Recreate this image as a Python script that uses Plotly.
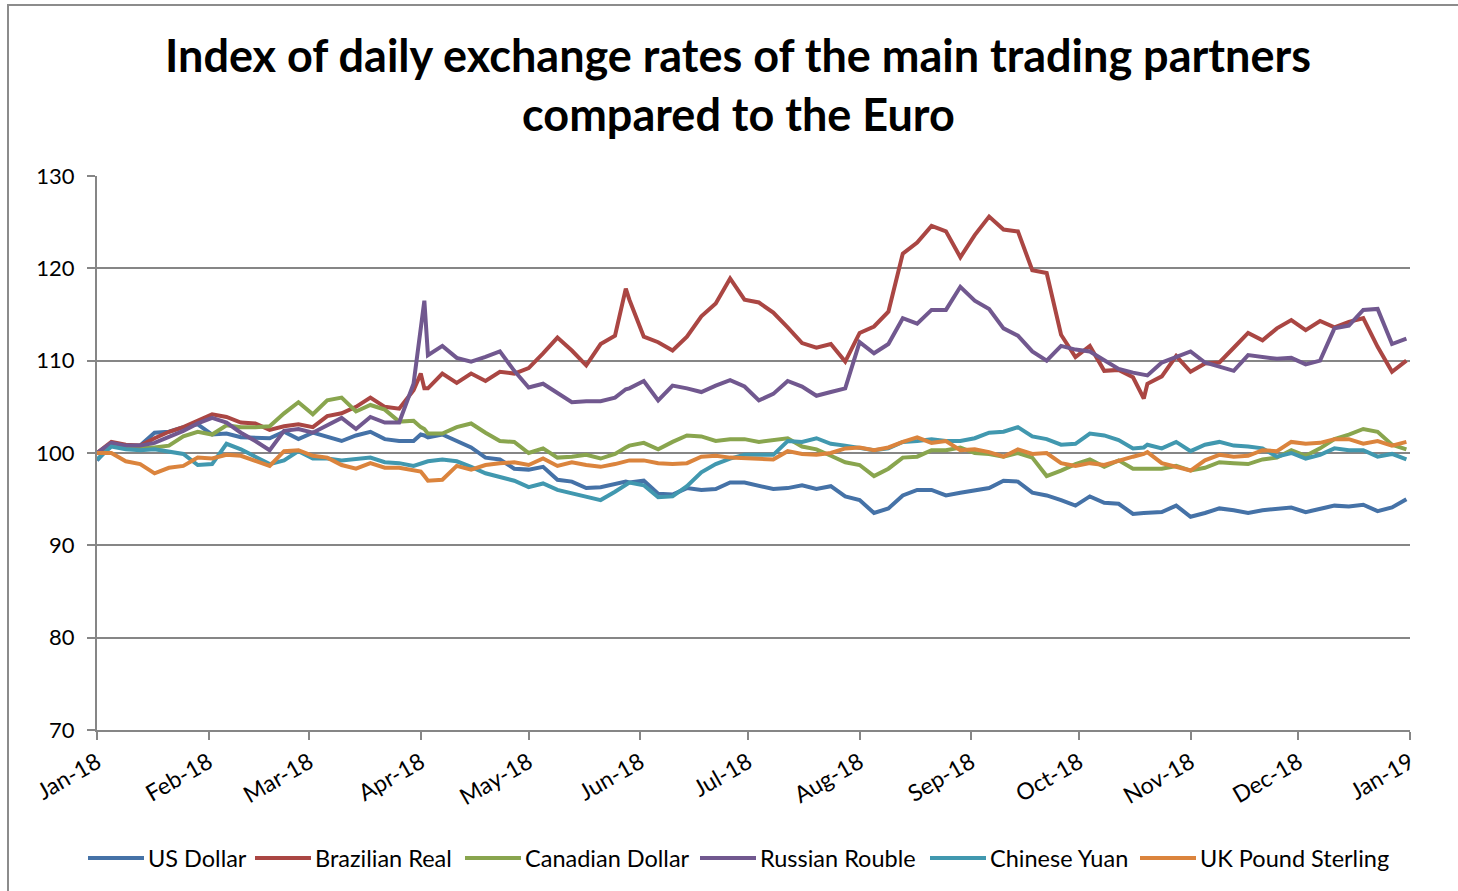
import pandas as pd
import plotly.graph_objects as go

# Day offsets from 1 January 2018 for each sampled observation
days = [0, 4, 8, 12, 16, 20, 24, 28, 32, 36, 40, 44, 48, 52, 56, 60, 64, 68, 72, 76, 80, 84, 88,
        90, 91,
        92, 96, 100, 104, 108, 112, 116, 120, 124, 128, 132, 136, 140, 144,
        147,
        148, 152, 156, 160, 164, 168, 172, 176, 180, 184, 188, 192, 196, 200, 204, 208, 212, 216,
        220, 224, 228, 232, 236, 240, 244, 248, 252, 256, 260, 264, 268, 272, 276, 280, 284, 288,
        291,
        292, 296, 300, 304, 308, 312, 316, 320, 324, 328, 332, 336, 340, 344, 348, 352, 356, 360, 364]

us_dollar = [99.2, 100.9, 100.7, 100.8, 102.2, 102.3, 102.8, 103.1, 102.0, 102.1, 101.7, 101.7, 101.6,
             102.3, 101.5, 102.2, 101.7, 101.3, 101.9, 102.3, 101.5, 101.3, 101.3,
             102.0, 101.9,
             101.7, 102.0, 101.3, 100.6, 99.5, 99.3, 98.3, 98.2, 98.5, 97.1, 96.9, 96.2, 96.3, 96.6,
             96.9,
             96.8, 97.0, 95.6, 95.5, 96.2, 96.0, 96.1, 96.8, 96.8, 96.4, 96.1, 96.2, 96.5, 96.1, 96.4,
             95.3, 94.9, 93.5, 94.0, 95.4, 96.0, 96.0, 95.4, 95.7, 95.9, 96.2, 97.0, 96.9, 95.7, 95.4,
             94.9, 94.3, 95.3, 94.6, 94.5, 93.4,
             93.5,
             93.5, 93.6, 94.3, 93.1, 93.5, 94.0, 93.8, 93.5, 93.8, 93.9, 94.1, 93.6, 93.9, 94.3, 94.2,
             94.4, 93.7, 94.1, 95.0]

brazilian_real = [100.0, 101.2, 100.9, 100.8, 101.6, 102.3, 102.8, 103.5, 104.2, 103.9, 103.3, 103.2,
                  102.5, 102.9, 103.1, 102.8, 104.0, 104.3, 105.0, 106.0, 105.0, 104.8, 106.8,
                  108.6, 107.0,
                  107.0, 108.6, 107.6, 108.6, 107.8, 108.8, 108.6, 109.2, 110.8, 112.5, 111.1, 109.5,
                  111.8, 112.7,
                  117.8,
                  116.6, 112.6, 112.0, 111.1, 112.6, 114.8, 116.2, 118.9, 116.6, 116.3, 115.2, 113.6,
                  111.9, 111.4, 111.8, 109.9, 113.0, 113.7, 115.3, 121.6, 122.8, 124.6, 124.0, 121.2,
                  123.6, 125.6, 124.2, 124.0, 119.8, 119.5, 112.8, 110.4, 111.6, 108.9, 109.0, 108.2,
                  105.9,
                  107.5, 108.3, 110.5, 108.8, 109.7, 109.8, 111.4, 113.0, 112.2, 113.5, 114.4, 113.3,
                  114.3, 113.6, 114.2, 114.6, 111.5, 108.8, 110.0]

canadian_dollar = [100.0, 100.8, 100.6, 100.6, 100.6, 100.8, 101.8, 102.3, 102.0, 103.0, 102.8, 102.8,
                   102.9, 104.3, 105.5, 104.2, 105.7, 106.0, 104.5, 105.2, 104.7, 103.4, 103.5,
                   102.8, 102.6,
                   102.1, 102.1, 102.8, 103.2, 102.2, 101.3, 101.2, 100.0, 100.5, 99.5, 99.6, 99.8,
                   99.4, 99.9,
                   100.6,
                   100.8, 101.1, 100.4, 101.2, 101.9, 101.8, 101.3, 101.5, 101.5, 101.2, 101.4, 101.6,
                   100.7, 100.4, 99.7, 99.0, 98.7, 97.5, 98.3, 99.5, 99.6, 100.3, 100.3, 100.6, 100.0,
                   99.9, 99.6, 100.0, 99.5, 97.5, 98.1, 98.8, 99.3, 98.5, 99.2, 98.3,
                   98.3,
                   98.3, 98.3, 98.6, 98.1, 98.4, 99.0, 98.9, 98.8, 99.3, 99.5, 100.3, 99.7, 100.5,
                   101.5, 102.0, 102.6, 102.3, 100.9, 100.4]

russian_rouble = [100.0, 101.1, 100.8, 100.8, 101.1, 101.7, 102.4, 103.2, 103.8, 103.3, 102.2, 101.3,
                  100.3, 102.4, 102.6, 102.2, 103.0, 103.8, 102.6, 103.9, 103.3, 103.3, 107.5,
                  113.5, 116.5,
                  110.6, 111.6, 110.3, 109.9, 110.4, 111.0, 108.9, 107.1, 107.5, 106.5, 105.5, 105.6,
                  105.6, 106.0,
                  106.9,
                  107.0, 107.8, 105.7, 107.3, 107.0, 106.6, 107.3, 107.9, 107.2, 105.7, 106.4, 107.8,
                  107.2, 106.2, 106.6, 107.0, 112.0, 110.8, 111.8, 114.6, 114.0, 115.5, 115.5, 118.0,
                  116.5, 115.6, 113.5, 112.7, 111.0, 110.0, 111.6, 111.2, 111.0, 110.1, 109.1, 108.7,
                  108.4,
                  108.4, 109.8, 110.4, 111.0, 109.8, 109.3, 108.9, 110.6, 110.4, 110.2, 110.3, 109.6,
                  110.0, 113.5, 113.8, 115.5, 115.6, 111.8, 112.4]

chinese_yuan = [99.3, 100.7, 100.4, 100.3, 100.4, 100.1, 99.9, 98.7, 98.8, 101.0, 100.4, 99.6, 98.8,
                99.2, 100.2, 99.4, 99.4, 99.2, 99.4, 99.5, 99.0, 98.9, 98.6,
                98.9, 99.0,
                99.1, 99.3, 99.1, 98.5, 97.8, 97.4, 97.0, 96.3, 96.7, 96.0, 95.6, 95.3, 94.9, 95.8,
                96.6,
                96.8, 96.5, 95.2, 95.3, 96.4, 97.9, 98.8, 99.4, 99.8, 99.8, 99.8, 101.3, 101.2, 101.6,
                101.0, 100.8, 100.5, 100.3, 100.5, 101.2, 101.3, 101.5, 101.3, 101.3, 101.6, 102.2,
                102.3, 102.8, 101.8, 101.5, 100.9, 101.0, 102.1, 101.9, 101.4, 100.5,
                100.6,
                100.9, 100.5, 101.2, 100.2, 100.9, 101.2, 100.8, 100.7, 100.5, 99.6, 100.0, 99.4,
                99.8, 100.5, 100.3, 100.3, 99.6, 99.9, 99.3]

uk_pound = [100.0, 100.0, 99.1, 98.8, 97.8, 98.4, 98.6, 99.5, 99.4, 99.8, 99.7, 99.1, 98.6, 100.2,
            100.3, 99.7, 99.5, 98.7, 98.3, 98.9, 98.4, 98.4, 98.1,
            98.0, 97.5,
            97.0, 97.1, 98.6, 98.2, 98.7, 98.9, 99.0, 98.7, 99.4, 98.6, 99.0, 98.7, 98.5, 98.8,
            99.1,
            99.2, 99.2, 98.9, 98.8, 98.9, 99.6, 99.7, 99.5, 99.4, 99.4, 99.3, 100.2, 99.9, 99.8,
            100.0, 100.5, 100.6, 100.3, 100.6, 101.2, 101.7, 101.1, 101.3, 100.3, 100.4, 100.1,
            99.6, 100.4, 99.9, 100.0, 98.9, 98.6, 98.9, 98.7, 99.2, 99.6,
            99.9,
            100.1, 98.9, 98.5, 98.1, 99.2, 99.8, 99.6, 99.7, 100.3, 100.2, 101.2, 101.0, 101.1,
            101.5, 101.5, 101.0, 101.3, 100.8, 101.2]

series_names = ["US Dollar", "Brazilian Real", "Canadian Dollar", "Russian Rouble",
                "Chinese Yuan", "UK Pound Sterling"]
series_values = [us_dollar, brazilian_real, canadian_dollar, russian_rouble, chinese_yuan, uk_pound]
series_colors = ["#4572A7", "#AA4643", "#89A54E", "#71588F", "#4198AF", "#DB843D"]

month_ticks = ["2018-01-01", "2018-02-01", "2018-03-01", "2018-04-01", "2018-05-01", "2018-06-01",
               "2018-07-01", "2018-08-01", "2018-09-01", "2018-10-01", "2018-11-01", "2018-12-01",
               "2019-01-01"]
month_labels = ["Jan-18", "Feb-18", "Mar-18", "Apr-18", "May-18", "Jun-18", "Jul-18", "Aug-18",
                "Sep-18", "Oct-18", "Nov-18", "Dec-18", "Jan-19"]

dates = pd.Timestamp("2018-01-01") + pd.to_timedelta(days, unit="D")

GREY = "#868686"
FONT = "Lato, Calibri, Carlito, sans-serif"

# Page geometry (pixels) used to place the key below the plot area
WIDTH, HEIGHT = 1458, 891
M_L, M_R, M_T, M_B = 97, 48, 176, 161
PLOT_W = WIDTH - M_L - M_R
PLOT_H = HEIGHT - M_T - M_B


def px_x(x):
    return (x - M_L) / PLOT_W


def px_y(y):
    return (HEIGHT - M_B - y) / PLOT_H


fig = go.Figure()
for name, vals, color in zip(series_names, series_values, series_colors):
    fig.add_trace(go.Scatter(x=dates, y=vals, mode="lines", name=name, showlegend=False,
                             line=dict(color=color, width=4)))

# Horizontal key: a long line swatch followed by the series name
key_line_starts = [88, 255, 465, 700, 930, 1140]
KEY_LINE_LEN = 56
KEY_Y = 858
shapes = [
    dict(type="rect", xref="paper", yref="paper", x0=px_x(8), x1=px_x(1462), y0=px_y(895), y1=px_y(5),
         line=dict(color="#8C8C8C", width=2), fillcolor="rgba(0,0,0,0)", layer="below"),
]
annotations = [
    dict(text="<b>Index of daily exchange rates of the main trading partners</b>",
         xref="paper", yref="paper", x=px_x(738), y=px_y(55), xanchor="center", yanchor="middle",
         showarrow=False, font=dict(size=45, family=FONT, color="black")),
    dict(text="<b>compared to the Euro</b>",
         xref="paper", yref="paper", x=px_x(738), y=px_y(114), xanchor="center", yanchor="middle",
         showarrow=False, font=dict(size=45, family=FONT, color="black")),
]
for name, color, start in zip(series_names, series_colors, key_line_starts):
    shapes.append(dict(type="line", xref="paper", yref="paper",
                       x0=px_x(start), x1=px_x(start + KEY_LINE_LEN), y0=px_y(KEY_Y), y1=px_y(KEY_Y),
                       line=dict(color=color, width=4)))
    annotations.append(dict(text=name, xref="paper", yref="paper",
                            x=px_x(start + KEY_LINE_LEN + 2), y=px_y(KEY_Y),
                            xanchor="left", yanchor="middle", showarrow=False,
                            font=dict(size=23.5, family=FONT, color="black")))

fig.update_layout(
    width=WIDTH, height=HEIGHT,
    margin=dict(l=M_L, r=M_R, t=M_T, b=M_B),
    paper_bgcolor="white", plot_bgcolor="white",
    font=dict(family=FONT, color="black", size=22),
    showlegend=False,
    annotations=annotations,
    shapes=shapes,
)

fig.update_xaxes(
    type="date", range=["2018-01-01", "2019-01-01"],
    tickmode="array", tickvals=month_ticks, ticktext=month_labels, tickangle=-30,
    ticks="outside", ticklen=8, tickwidth=2, tickcolor=GREY,
    showline=True, linecolor=GREY, linewidth=2, showgrid=False, zeroline=False,
    tickfont=dict(size=23, family=FONT, color="black"),
)
fig.update_yaxes(
    range=[70, 130], tick0=70, dtick=10,
    ticks="outside", ticklen=8, tickwidth=2, tickcolor=GREY, ticklabelstandoff=8,
    showline=True, linecolor=GREY, linewidth=2,
    showgrid=True, gridcolor=GREY, gridwidth=2, zeroline=False,
    tickfont=dict(size=22, family=FONT, color="black"),
)

fig.write_html("out.html")
